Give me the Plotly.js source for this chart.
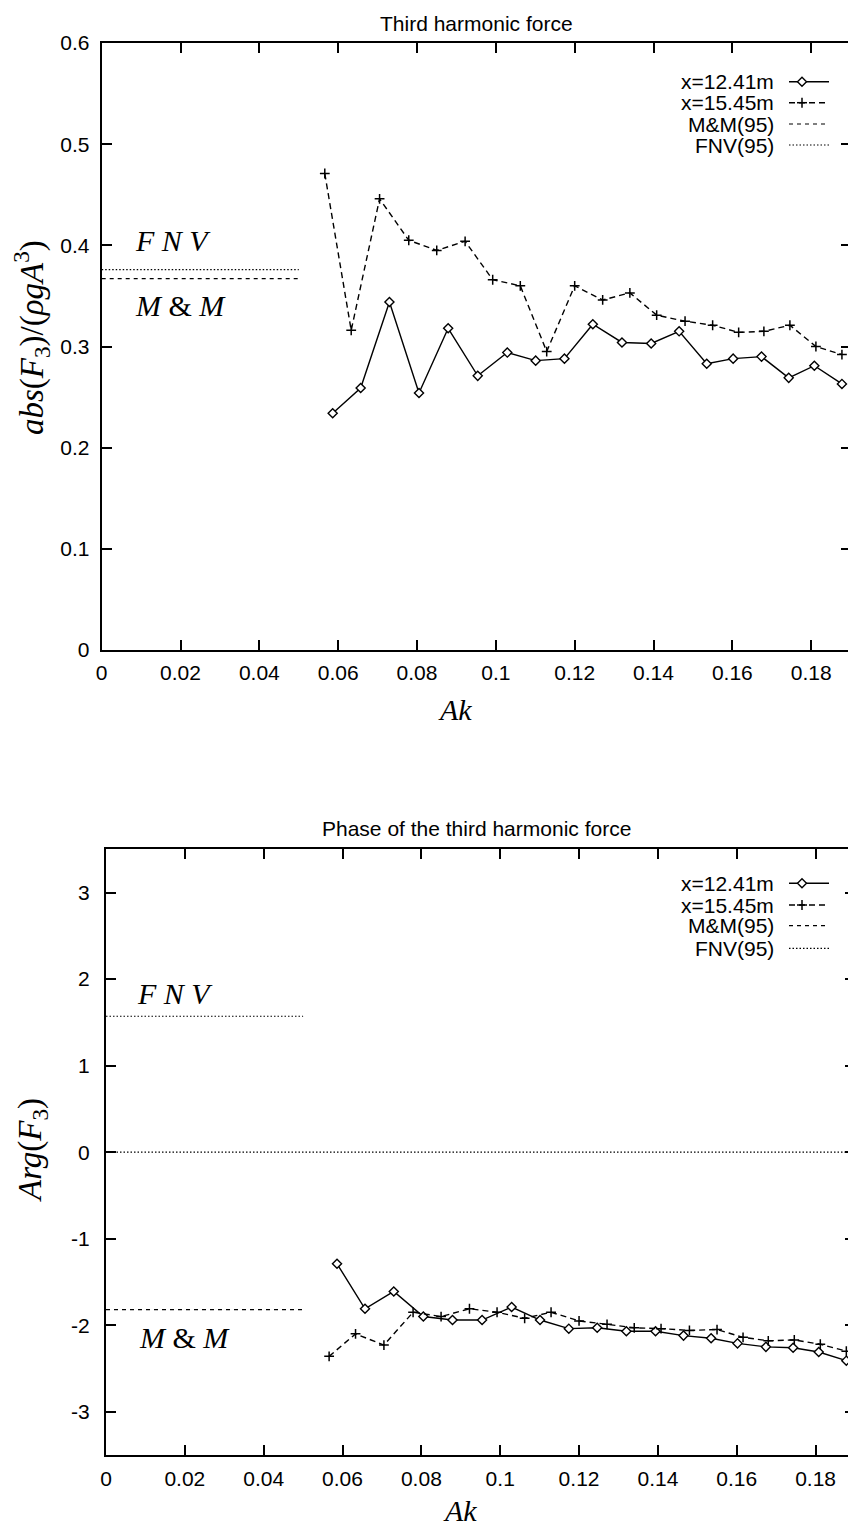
<!DOCTYPE html>
<html>
<head>
<meta charset="utf-8">
<script src="https://cdn.plot.ly/plotly-3.0.1.min.js"></script>
<style>
html,body{margin:0;padding:0;overflow:hidden;background:#fff;}
#wrap{width:848px;height:1528px;overflow:hidden;position:relative;}
#chart{width:860px;height:1528px;}
</style>
</head>
<body>
<div id="wrap"><div id="chart"></div></div>
<script>
// ---- data ----
const akDiamond = [0.0586, 0.0657, 0.0730, 0.0805, 0.0879, 0.0954, 0.1029, 0.1101, 0.1174, 0.1246, 0.1320, 0.1394, 0.1465, 0.1535, 0.1602, 0.1674, 0.1743, 0.1808, 0.1878];
const absF3_x1241 = [0.234, 0.259, 0.344, 0.254, 0.318, 0.271, 0.294, 0.286, 0.288, 0.322, 0.304, 0.303, 0.315, 0.283, 0.288, 0.290, 0.269, 0.281, 0.263];
const argF3_x1241 = [-1.29, -1.81, -1.61, -1.90, -1.94, -1.94, -1.79, -1.94, -2.04, -2.03, -2.07, -2.07, -2.12, -2.15, -2.21, -2.25, -2.26, -2.31, -2.41];

const akCross = [0.0566, 0.0633, 0.0705, 0.0779, 0.0850, 0.0922, 0.0992, 0.1062, 0.1129, 0.1200, 0.1271, 0.1340, 0.1408, 0.1480, 0.1550, 0.1616, 0.1680, 0.1746, 0.1812, 0.1878];
const absF3_x1545 = [0.471, 0.316, 0.446, 0.405, 0.395, 0.404, 0.366, 0.360, 0.295, 0.360, 0.346, 0.353, 0.331, 0.325, 0.321, 0.314, 0.315, 0.321, 0.300, 0.292];
const argF3_x1545 = [-2.36, -2.10, -2.23, -1.85, -1.90, -1.81, -1.85, -1.92, -1.85, -1.95, -1.99, -2.03, -2.04, -2.06, -2.05, -2.14, -2.18, -2.17, -2.22, -2.30];

const refAk = [0, 0.05];
const mmAbs = 0.367, fnvAbs = 0.376;
const mmArg = -1.82, fnvArg = 1.5708;

const argTickVals = [-3, -2, -1, 0, 1, 2, 3];
const argTickText = ['-3', '-2', '-1', '0', '1', '2', '3'];
const legendNames = ['x=12.41m', 'x=15.45m', 'M&M(95)', 'FNV(95)'];

// ---- layout helpers ----
const W = 860, H = 1528;
const px = x => x / W;
const py = y => 1 - y / H;
const SANS = 'Liberation Sans, Arial, sans-serif';
const SERIF = 'Liberation Serif, Times New Roman, serif';

const diamondStyle = {symbol: 'diamond', size: 7, color: '#fff', line: {color: '#000', width: 1.4}};
const crossStyle = {symbol: 'cross-thin', size: 7, color: '#000', line: {color: '#000', width: 1.5}};
const dashCross = '6px,4px';
const dashMM = '4px,4px';
const dotFNV = '1.5px,2px';

function traces(xa, ya, yD, yC, mm, fnv) {
  return [
    {x: akDiamond, y: yD, xaxis: xa, yaxis: ya, mode: 'lines+markers', line: {color: '#000', width: 1.4}, marker: diamondStyle},
    {x: akCross, y: yC, xaxis: xa, yaxis: ya, mode: 'lines+markers', line: {color: '#000', width: 1.4, dash: dashCross}, marker: crossStyle},
    {x: refAk, y: refAk.map(() => mm), xaxis: xa, yaxis: ya, mode: 'lines', line: {color: '#000', width: 1.2, dash: dashMM}},
    {x: refAk, y: refAk.map(() => fnv), xaxis: xa, yaxis: ya, mode: 'lines', line: {color: '#000', width: 1.2, dash: dotFNV}}
  ];
}

const data = [
  ...traces('x', 'y', absF3_x1241, absF3_x1545, mmAbs, fnvAbs),
  ...traces('x2', 'y2', argF3_x1241, argF3_x1545, mmArg, fnvArg)
];

const axCommon = {
  showline: true, linewidth: 2, linecolor: '#000', mirror: 'ticks',
  ticks: 'inside', ticklen: 10, tickwidth: 2, tickcolor: '#000',
  showgrid: false, zeroline: false,
  tickfont: {family: SANS, size: 21, color: '#000'}
};

// legend drawn gnuplot style: text right-aligned, sample on the right
const shapes = [];
const annotations = [];
function legend(rows) {
  const tx = 776, l0 = 789, l1 = 829, mx = 802;
  rows.forEach((ry, i) => {
    annotations.push({xref: 'paper', yref: 'paper', x: px(tx), y: py(ry), xanchor: 'right', yanchor: 'middle',
      text: legendNames[i], showarrow: false, font: {family: SANS, size: 21, color: '#000'}});
    const dash = i === 0 ? 'solid' : (i === 1 ? dashCross : (i === 2 ? dashMM : dotFNV));
    shapes.push({type: 'line', xref: 'paper', yref: 'paper', x0: px(l0), x1: px(l1), y0: py(ry), y1: py(ry),
      line: {color: '#000', width: i < 2 ? 1.4 : 1.2, dash: dash}});
    if (i === 0) {
      const r = 4.5;
      shapes.push({type: 'path', xref: 'paper', yref: 'paper', fillcolor: '#fff',
        path: `M${px(mx)},${py(ry - r)} L${px(mx + r)},${py(ry)} L${px(mx)},${py(ry + r)} L${px(mx - r)},${py(ry)} Z`,
        line: {color: '#000', width: 1.4}});
    } else if (i === 1) {
      const r = 5;
      shapes.push({type: 'line', xref: 'paper', yref: 'paper', x0: px(mx), x1: px(mx), y0: py(ry - r), y1: py(ry + r), line: {color: '#000', width: 1.5}});
      shapes.push({type: 'line', xref: 'paper', yref: 'paper', x0: px(mx - r), x1: px(mx + r), y0: py(ry), y1: py(ry), line: {color: '#000', width: 1.5}});
    }
  });
}
legend([81.7, 102.7, 124, 145]);
legend([883.3, 905, 925.7, 948.3]);

// zero axis in the phase plot
shapes.push({type: 'line', xref: 'x2 domain', yref: 'y2', x0: 0, x1: 1, y0: 0, y1: 0,
  line: {color: '#000', width: 1.2, dash: dotFNV}});

function txt(x, y, text, font, extra) {
  annotations.push(Object.assign({xref: 'paper', yref: 'paper', x: px(x), y: py(y), xanchor: 'center', yanchor: 'middle',
    text: text, showarrow: false, font: font}, extra || {}));
}
const titleFont = {family: SANS, size: 21, color: '#000'};
const mathFont = {family: SERIF, size: 30, color: '#000'};
const yTitleFont = {family: SERIF, size: 33, color: '#000'};
txt(476, 24, 'Third harmonic force', titleFont);
txt(476, 828, 'Phase of the third harmonic force', titleFont);
txt(455, 710, '<i>Ak</i>', mathFont);
txt(460, 1510, '<i>Ak</i>', mathFont);
txt(32, 338, '<i>abs</i>(<i>F</i><sub>3</sub>)/(<i>ρgA</i><sup>3</sup>)', yTitleFont, {textangle: -90});
txt(32, 1150, '<i>Arg</i>(<i>F</i><sub>3</sub>)', yTitleFont, {textangle: -90});
txt(133, 240, '<i>F N V</i>', mathFont, {xanchor: 'left'});
txt(133, 305, '<i>M</i> & <i>M</i>', mathFont, {xanchor: 'left'});
txt(135, 993, '<i>F N V</i>', mathFont, {xanchor: 'left'});
txt(137, 1337, '<i>M</i> & <i>M</i>', mathFont, {xanchor: 'left'});

const layout = {
  width: W, height: H,
  margin: {l: 0, r: 0, t: 0, b: 0},
  paper_bgcolor: '#fff', plot_bgcolor: '#fff',
  showlegend: false,
  xaxis: Object.assign({}, axCommon, {domain: [px(101.7), px(850.6)], range: [0, 0.19], tick0: 0, dtick: 0.02, anchor: 'y', ticklabelstandoff: 3}),
  yaxis: Object.assign({}, axCommon, {domain: [py(650), py(43)], range: [0, 0.6], tick0: 0, dtick: 0.1, anchor: 'x', ticklabelstandoff: 6}),
  xaxis2: Object.assign({}, axCommon, {domain: [px(106), px(855)], range: [0, 0.19], tick0: 0, dtick: 0.02, anchor: 'y2', ticklabelstandoff: 4}),
  yaxis2: Object.assign({}, axCommon, {domain: [py(1455), py(849.3)], range: [-3.5, 3.5], tickvals: argTickVals, ticktext: argTickText, anchor: 'x2', ticklabelstandoff: 10}),
  shapes: shapes,
  annotations: annotations
};

Plotly.newPlot('chart', data, layout, {displayModeBar: false, staticPlot: true});
</script>
</body>
</html>
